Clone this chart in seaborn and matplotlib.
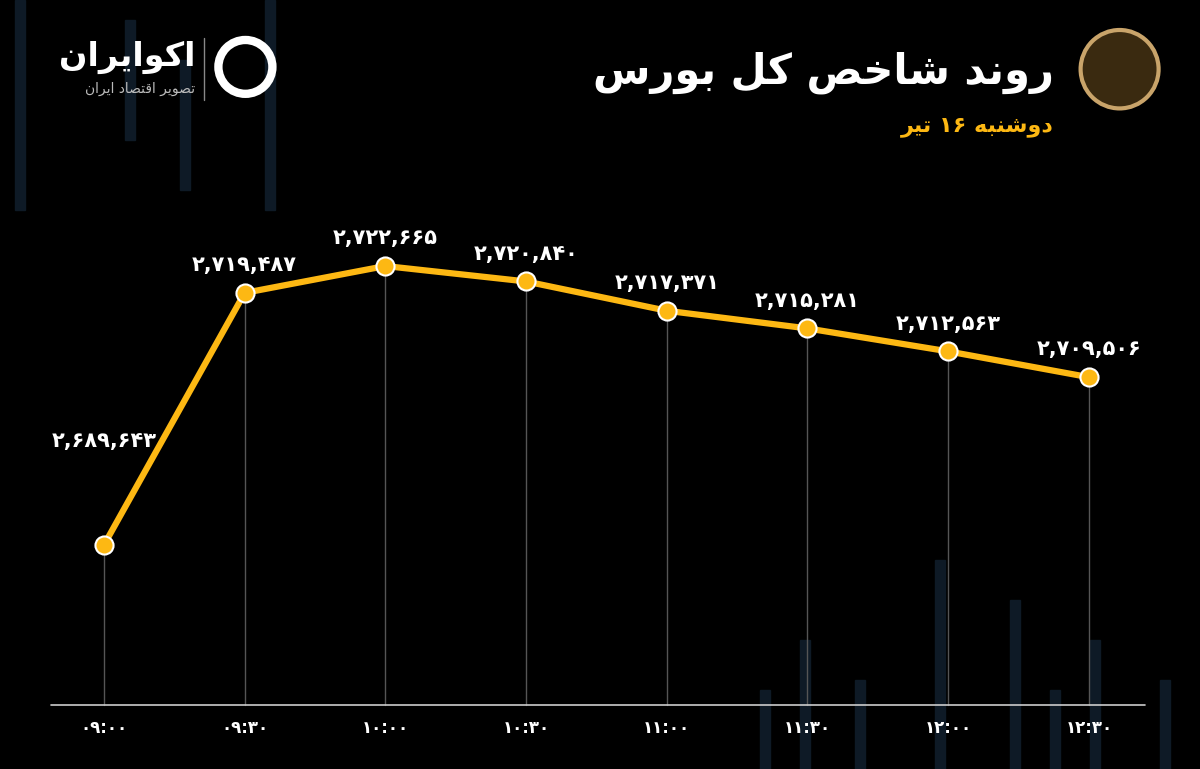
import matplotlib
matplotlib.use("Agg")
import matplotlib.pyplot as plt
import seaborn as sns
import pandas as pd
import numpy as np

times = ["۰۹:۰۰", "۰۹:۳۰", "۱۰:۰۰", "۱۰:۳۰", "۱۱:۰۰", "۱۱:۳۰", "۱۲:۰۰", "۱۲:۳۰"]
values = [2689643, 2719487, 2722665, 2720840, 2717371, 2715281, 2712563, 2709506]
title = "روند شاخص کل بورس"
subtitle = "دوشنبه ۱۶ تیر"
brand = "اکوایران"
brand_sub = "تصویر اقتصاد ایران"

FORMS = {  # iso, fin, ini, med
    'ا': ('\uFE8D', '\uFE8E', None, None), 'ب': ('\uFE8F', '\uFE90', '\uFE91', '\uFE92'),
    'ت': ('\uFE95', '\uFE96', '\uFE97', '\uFE98'), 'خ': ('\uFEA5', '\uFEA6', '\uFEA7', '\uFEA8'),
    'د': ('\uFEA9', '\uFEAA', None, None), 'ر': ('\uFEAD', '\uFEAE', None, None),
    'س': ('\uFEB1', '\uFEB2', '\uFEB3', '\uFEB4'), 'ش': ('\uFEB5', '\uFEB6', '\uFEB7', '\uFEB8'),
    'ص': ('\uFEB9', '\uFEBA', '\uFEBB', '\uFEBC'), 'ق': ('\uFED5', '\uFED6', '\uFED7', '\uFED8'),
    'ل': ('\uFEDD', '\uFEDE', '\uFEDF', '\uFEE0'), 'ن': ('\uFEE5', '\uFEE6', '\uFEE7', '\uFEE8'),
    'ه': ('\uFEE9', '\uFEEA', '\uFEEB', '\uFEEC'), 'و': ('\uFEED', '\uFEEE', None, None),
    'ک': ('\uFB8E', '\uFB8F', '\uFB90', '\uFB91'), 'ی': ('\uFBFC', '\uFBFD', '\uFBFE', '\uFBFF'),
}

def shape(s):
    out = []
    for i, c in enumerate(s):
        if c not in FORMS:
            out.append(c); continue
        prev = s[i-1] if i > 0 else ''
        nxt = s[i+1] if i + 1 < len(s) else ''
        jp = prev in FORMS and FORMS[prev][2] is not None
        jn = nxt in FORMS and FORMS[c][2] is not None
        f = FORMS[c]
        if jp and jn: out.append(f[3])
        elif jp: out.append(f[1])
        elif jn: out.append(f[2])
        else: out.append(f[0])
    words = "".join(out).split(" ")
    res = []
    for w in reversed(words):
        if any(ch in "۰۱۲۳۴۵۶۷۸۹" for ch in w):
            res.append(w)
        else:
            res.append(w[::-1])
    return " ".join(res)

def fa_num(n):
    s = f"{n:,}"
    return s.translate(str.maketrans("0123456789", "۰۱۲۳۴۵۶۷۸۹"))

sns.set_theme(style="dark")
plt.rcParams['font.family'] = ['DejaVu Sans']
fig = plt.figure(figsize=(12, 7.69), dpi=100, facecolor="black")
ax = fig.add_axes([0, 0, 1, 1])
ax.set_facecolor("black")
ax.set_axis_off()

# faint decorative background bars (figure pixel coords)
for bx, top, bot in [(15, 0, 210), (125, 20, 140), (180, 60, 190), (265, 0, 210),
                     (760, 690, 769), (800, 640, 769), (855, 680, 769), (935, 560, 769),
                     (1010, 600, 769), (1050, 690, 769), (1090, 640, 769), (1160, 680, 769)]:
    fig.add_artist(matplotlib.patches.Rectangle((bx / 1200, 1 - bot / 769), 10 / 1200, (bot - top) / 769,
                                                color="#0e1a26", zorder=0))

xs = np.arange(len(values))
ylow, yhigh = 2663120, 2754160
ax.set_xlim(-0.739, 7.79)
ax.set_ylim(ylow, yhigh)
base = 2670700
for x, v in zip(xs, values):
    ax.plot([x, x], [base, v], color="#555555", lw=1, zorder=1)
ax.plot([-0.38, 7.4], [base, base], color="#cccccc", lw=1.2, zorder=1)
df = pd.DataFrame({"x": xs, "v": values})
sns.lineplot(data=df, x="x", y="v", ax=ax, color="#FDB813", lw=4.5, zorder=3)
ax.scatter(xs, values, s=170, color="#FDB813", edgecolor="white", linewidth=1.5, zorder=4)
for x, v in zip(xs, values):
    ax.text(x, v + 2100 + (0 if x else 9000), fa_num(v), color="white", fontsize=15,
            fontweight="bold", ha="center", va="bottom", zorder=5)
    ax.text(x, 2667976, times[x], color="white", fontsize=12, fontweight="bold",
            ha="center", va="center")

fig.text(0.878, 0.905, shape(title), color="white", fontsize=30, fontweight="bold", ha="right", va="center")
fig.text(0.878, 0.835, shape(subtitle), color="#FDB813", fontsize=16, fontweight="bold", ha="right", va="center")
fig.text(0.163, 0.925, shape(brand), color="white", fontsize=24, fontweight="bold", ha="right", va="center")
fig.text(0.163, 0.885, shape(brand_sub), color="#bbbbbb", fontsize=10, ha="right", va="center")
fig.add_artist(plt.Line2D([0.17, 0.17], [0.87, 0.95], color="#888888", lw=1))
fig.add_artist(matplotlib.patches.Ellipse((0.2045, 0.913), 0.045, 0.07, facecolor="none", edgecolor="white", lw=6))
fig.add_artist(matplotlib.patches.Ellipse((0.933, 0.91), 0.065, 0.102, facecolor="#3a2a10", edgecolor="#c9a46a", lw=3))
fig.savefig("out.png", dpi=100, facecolor="black")
